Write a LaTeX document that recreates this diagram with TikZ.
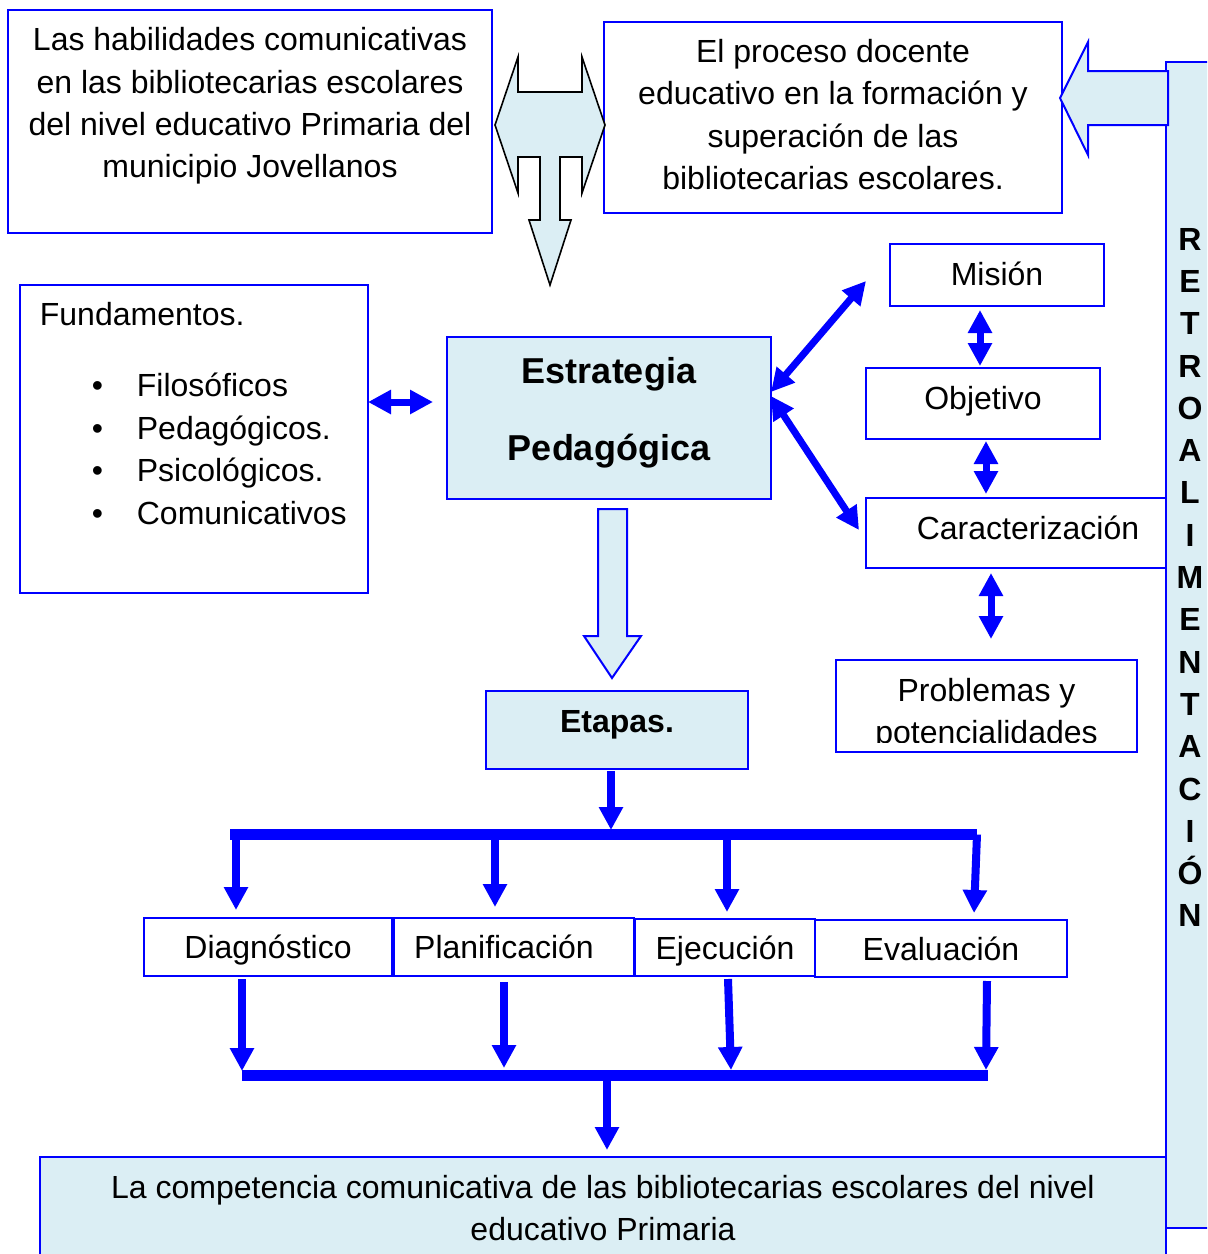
\documentclass[tikz,border=0pt]{standalone}
\usepackage{fontspec}
\setmainfont{Liberation Sans}
\usepackage{tikz}
\usetikzlibrary{arrows.meta}
\definecolor{azul}{RGB}{0,0,255}
\definecolor{fondo}{RGB}{219,238,244}
\tikzstyle{caja} = [rectangle, draw=azul, line width=1pt, inner sep=0pt, outer sep=0pt, anchor=north west, align=center]
\tikzstyle{cajaazul} = [caja, fill=fondo]
\tikzstyle{linea} = [text height=11.5pt, text depth=0pt]
\tikzstyle{texto} = [inner sep=0pt, align=center]
\tikzstyle{flecha} = [azul, line width=4pt, -{Triangle[width=11.5pt,length=11.5pt]}]
\tikzstyle{doble} = [azul, line width=3.5pt, {Triangle[width=11.5pt,length=11.5pt]}-{Triangle[width=11.5pt,length=11.5pt]}]
\tikzstyle{barra} = [azul, line width=5.5pt]
\tikzstyle{bloque} = [draw=azul, fill=fondo, line width=1pt, line join=miter]
\newcommand{\vineta}{\makebox[48.5pt][l]{\hspace*{26pt}•}}

\begin{document}
\begin{tikzpicture}[x=0.5pt, y=-0.5pt, font=\fontsize{16}{21.2}\selectfont]
\useasboundingbox (0,0) rectangle (1207,1254);
\clip (0,0) rectangle (1207,1254);

% retroalimentacion
\node (retro) [cajaazul, minimum width=40pt, minimum height=583pt] at (1166,62) {};
\node (retrotxt) [texto, font=\bfseries\fontsize{16}{21.15}\selectfont] at (1190,577.5) {R\\E\\T\\R\\O\\A\\L\\I\\M\\E\\N\\T\\A\\C\\I\\Ó\\N};

% cajas de arriba
\node (hab) [caja, minimum width=242pt, minimum height=111.5pt] at (8,10) {};
\node (habtxt) [texto] at ([yshift=7.75pt]hab.center) {Las habilidades comunicativas\\en las bibliotecarias escolares\\del nivel educativo Primaria del\\municipio Jovellanos};
\node (proc) [caja, minimum width=229pt, minimum height=95.5pt] at (604,22) {};
\node (proctxt) [texto] at ([yshift=1.5pt]proc.center) {El proceso docente\\educativo en la formación y\\superación de las\\bibliotecarias escolares.};

\node (fund) [caja, minimum width=174pt, minimum height=154pt] at (20,285) {};
\node (fundtxt) [texto, align=left, anchor=north west] at ([xshift=9.75pt, yshift=-8.5pt]fund.north west) {Fundamentos.\\[14.5pt]\vineta Filosóficos\\\vineta Pedagógicos.\\\vineta Psicológicos.\\\vineta Comunicativos};

\node (estr) [cajaazul, minimum width=162pt, minimum height=81pt] at (447,337) {};
\node (estrtxt) [texto, font=\bfseries\fontsize{18}{38.5}\selectfont] at ([yshift=2.85pt]estr.center) {Estrategia\\Pedagógica};

\node (mision) [caja, linea, text depth=1pt, minimum width=107pt, minimum height=31pt] at (890,244) {Misión};
\node (objetivo) [caja, linea, text depth=5.5pt, minimum width=117pt, minimum height=35.5pt] at (866,368) {Objetivo};
\node (caract) [caja, linea, text depth=5pt, minimum width=150pt, minimum height=35pt] at (866,498) {\hspace*{12pt}Caracterización};
\node (prob) [caja, minimum width=150.5pt, minimum height=46pt] at (836,660) {};
\begin{scope}
  \clip (prob.north west) rectangle ([yshift=5pt]prob.south east);
  \node (probtxt) [texto] at ([yshift=-4pt]prob.center) {Problemas y\\potencialidades};
\end{scope}

% etapas
\node (etapas) [cajaazul, linea, text depth=9pt, minimum width=131pt, minimum height=39pt, font=\bfseries\fontsize{16}{21.2}\selectfont] at (486,691) {Etapas.};
\node (diag) [caja, linea, minimum width=124pt, minimum height=29pt] at (144,918) {Diagnóstico};
\node (plan) [caja, linea, minimum width=120pt, minimum height=29pt] at (394,918) {Planificación\hspace*{10pt}};
\node (ejec) [caja, linea, minimum width=90pt, minimum height=28.5pt] at (635,919) {Ejecución};
\node (eval) [caja, linea, minimum width=126pt, minimum height=28.5pt] at (815,920) {Evaluación};

\node (final) [cajaazul, minimum width=563pt, minimum height=80pt] at (40,1157) {};
\node (finaltxt) [texto] at ([yshift=-25.5pt]final.north) {La competencia comunicativa de las bibliotecarias escolares del nivel\\educativo Primaria};

% flechas de bloque
\draw [bloque, draw=black, line width=0.8pt] ([xshift=1.5pt, yshift=-1.75pt]hab.east) -- ++(23,-68) -- ++(0,35) -- ++(64,0) -- ++(0,-35) -- ++(23,68) -- ++(-23,68) -- ++(0,-36) -- ++(-22,0) -- ++(0,63) -- ++(11,0) -- ++(-21,65) -- ++(-21,-65) -- ++(11,0) -- ++(0,-63) -- ++(-22,0) -- ++(0,36) -- cycle;
\draw [bloque] ([xshift=-1pt, yshift=9.75pt]proc.east) -- ++(28,-56) -- ++(0,29) -- ++(80,0) -- ++(0,54) -- ++(-80,0) -- ++(0,30) -- cycle;
\draw [bloque] ([xshift=-5.5pt, yshift=-5pt]estr.south) -- ++(29,0) -- ++(0,127) -- ++(14,0) -- ++(-29,42) -- ++(-28,-42) -- ++(14,0) -- cycle;

% flechas dobles
\draw [doble] ([yshift=18.5pt]fund.east) -- ([xshift=-7pt, yshift=8pt]estr.west);
\draw [doble] ([yshift=13pt]estr.east) -- ([xshift=-12pt, yshift=-3pt]mision.west);
\draw [doble] ([yshift=11pt]estr.east) -- ([xshift=-3.5pt, yshift=1.5pt]caract.west);
\draw [doble] ([xshift=-8.5pt, yshift=-2pt]mision.south) -- ([xshift=-1.5pt, yshift=1pt]objetivo.north);
\draw [doble] ([xshift=1.5pt, yshift=-1pt]objetivo.south) -- ([xshift=-15pt, yshift=2pt]caract.north);
\draw [doble] ([xshift=-12.5pt, yshift=-2.5pt]caract.south) -- ([xshift=2.25pt, yshift=10.5pt]prob.north);

% barras
\coordinate (barraA) at (230,834.5);
\coordinate (barraB) at (977,834.5);
\coordinate (barraC) at (242,1075.5);
\coordinate (barraD) at (988,1075.5);
\draw [barra] (barraA) -- (barraB);
\draw [barra] (barraC) -- (barraD);

\draw [flecha] ([xshift=-3pt, yshift=-1pt]etapas.south) -- ([xshift=-3pt, yshift=-30.5pt]etapas.south);
\draw [flecha] ([xshift=-16pt, yshift=41.75pt]diag.north) -- ([xshift=-16pt, yshift=4pt]diag.north);
\draw [flecha] ([xshift=-9.5pt, yshift=41.75pt]plan.north) -- ([xshift=-9.5pt, yshift=5.5pt]plan.north);
\draw [flecha] ([xshift=1pt, yshift=42.25pt]ejec.north) -- ([xshift=1pt, yshift=3.5pt]ejec.north);
\draw [flecha] ([xshift=18pt, yshift=42.75pt]eval.north) -- ([xshift=16.5pt, yshift=3.5pt]eval.north);

\draw [flecha] ([xshift=-13pt, yshift=-1.5pt]diag.south) -- ([xshift=-13pt, yshift=-47.5pt]diag.south);
\draw [flecha] ([xshift=-5pt, yshift=-3pt]plan.south) -- ([xshift=-5pt, yshift=-46pt]plan.south);
\draw [flecha] ([xshift=1.5pt, yshift=-1.5pt]ejec.south) -- ([xshift=3pt, yshift=-47pt]ejec.south);
\draw [flecha] ([xshift=23pt, yshift=-2pt]eval.south) -- ([xshift=22.5pt, yshift=-46.5pt]eval.south);
\draw [flecha] ([xshift=2pt, yshift=41pt]final.north) -- ([xshift=2pt, yshift=3.5pt]final.north);

\end{tikzpicture}
\end{document}
